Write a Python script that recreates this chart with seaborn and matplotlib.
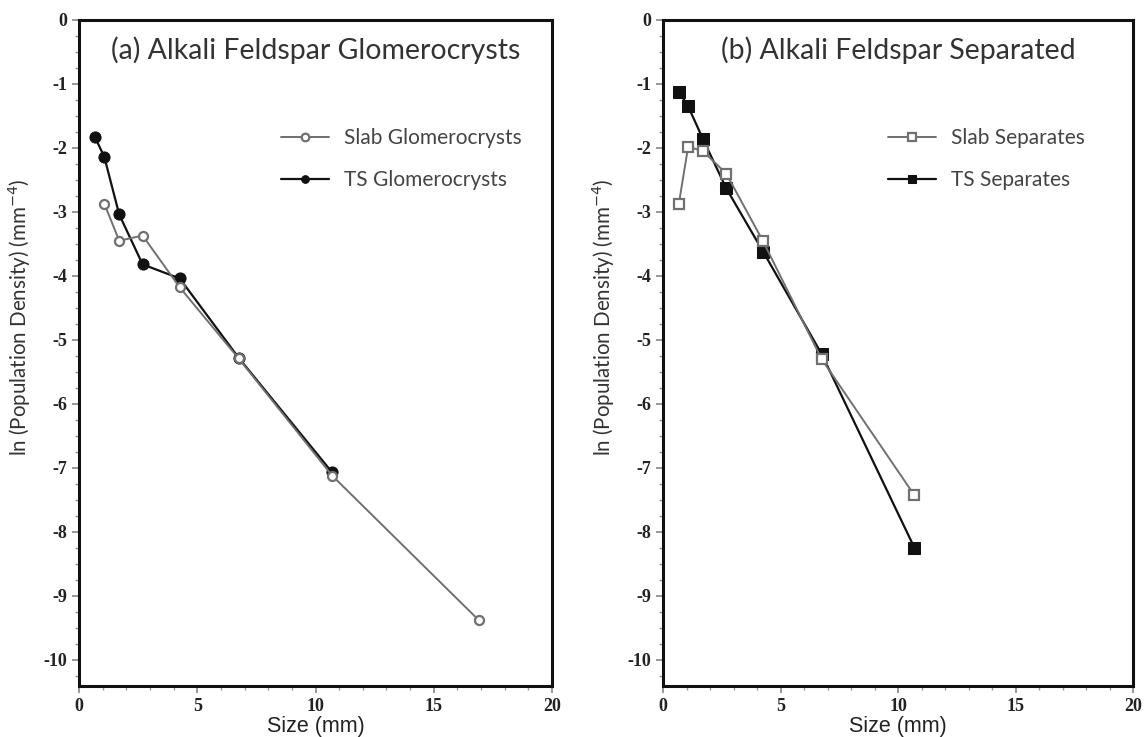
import matplotlib
matplotlib.use("Agg")
import matplotlib.pyplot as plt
import seaborn as sns
import numpy as np
from matplotlib.ticker import MultipleLocator

# ---- data ----
sizes = [0.675, 1.07, 1.70, 2.69, 4.26, 6.75, 10.7, 16.9]

slab_glom_x = sizes[1:]
slab_glom_y = [-2.87, -3.45, -3.37, -4.18, -5.29, -7.12, -9.38]
ts_glom_x = sizes[:7]
ts_glom_y = [-1.83, -2.14, -3.04, -3.82, -4.04, -5.28, -7.07]

slab_sep_x = sizes[:7]
slab_sep_y = [-2.87, -1.98, -2.05, -2.40, -3.46, -5.30, -7.43]
ts_sep_x = sizes[:7]
ts_sep_y = [-1.12, -1.35, -1.86, -2.63, -3.62, -5.22, -8.25]

titles = ["(a) Alkali Feldspar Glomerocrysts", "(b) Alkali Feldspar Separated"]
x_ticks = [0, 5, 10, 15, 20]
y_ticks = [0, -1, -2, -3, -4, -5, -6, -7, -8, -9, -10]

sns.set_style("ticks")
plt.rcParams['font.family'] = ['Lato', 'DejaVu Sans']
plt.rcParams['axes.unicode_minus'] = False

GRAY = "#707070"
BLACK = "#111111"

fig = plt.figure(figsize=(11.47, 7.37), dpi=100)
ax1 = fig.add_axes([79/1147, 1-686/737, (552-79)/1147, (686-20)/737])
ax2 = fig.add_axes([663/1147, 1-686/737, (1133-663)/1147, (686-20)/737])

def style_axes(ax, title):
    ax.set_xlim(0, 20)
    ax.set_ylim(-10.41, 0)
    ax.set_xticks(x_ticks)
    ax.set_yticks(y_ticks)
    ax.xaxis.set_minor_locator(MultipleLocator(1))
    ax.yaxis.set_minor_locator(MultipleLocator(0.25))
    for s in ax.spines.values():
        s.set_linewidth(2.2)
        s.set_color("#111111")
    ax.tick_params(which='major', direction='out', length=5, width=1.2, color="#888888",
                   top=False, right=False)
    ax.tick_params(which='minor', direction='out', length=3, width=1.0, color="#999999",
                   top=False, right=False)
    for lab in ax.get_xticklabels() + ax.get_yticklabels():
        lab.set_fontfamily("Liberation Serif")
        lab.set_fontweight("bold")
        lab.set_fontsize(13)
        lab.set_color("#222222")
    ax.set_xlabel("Size (mm)", fontfamily="Liberation Sans", fontsize=15.5, color="#222222", labelpad=1)
    ax.set_ylabel("ln (Population Density) (mm$^{-4}$)", fontsize=14.8, color="#333333")
    w = ax.get_position().width * 1147
    ax.yaxis.set_label_coords(-(79 - 33) / w, 0.553)
    ax.text(0.5, 0.955, title, transform=ax.transAxes, ha='center', va='center',
            fontsize=20.5, color="#333333")

# left panel
sns.lineplot(x=ts_glom_x, y=ts_glom_y, ax=ax1, sort=False, color=BLACK, linewidth=1.6,
             marker='o', markersize=8, markerfacecolor=BLACK, markeredgecolor=BLACK,
             label="TS Glomerocrysts")
sns.lineplot(x=slab_glom_x, y=slab_glom_y, ax=ax1, sort=False, color=GRAY, linewidth=1.4,
             marker='o', markersize=6.5, markerfacecolor='white', markeredgecolor=GRAY,
             markeredgewidth=1.6, label="Slab Glomerocrysts")

# right panel
sns.lineplot(x=ts_sep_x, y=ts_sep_y, ax=ax2, sort=False, color=BLACK, linewidth=1.6,
             marker='s', markersize=8, markerfacecolor=BLACK, markeredgecolor=BLACK,
             label="TS Separates")
sns.lineplot(x=slab_sep_x, y=slab_sep_y, ax=ax2, sort=False, color=GRAY, linewidth=1.4,
             marker='s', markersize=7.5, markerfacecolor='white', markeredgecolor=GRAY,
             markeredgewidth=1.6, label="Slab Separates")

for ax, t, lx in zip([ax1, ax2], titles, [0.41, 0.462]):
    style_axes(ax, t)
    h, l = ax.get_legend_handles_labels()
    leg = ax.legend(h[::-1], l[::-1], loc='upper left', bbox_to_anchor=(lx, 0.85),
                    frameon=False, fontsize=15, handlelength=2.3, handletextpad=0.7,
                    labelspacing=1.05, borderaxespad=0)
    for txt in leg.get_texts():
        txt.set_color("#444444")
    for lh in leg.legend_handles:
        lh.set_markersize(5.5)

fig.savefig("out.png", dpi=100)
